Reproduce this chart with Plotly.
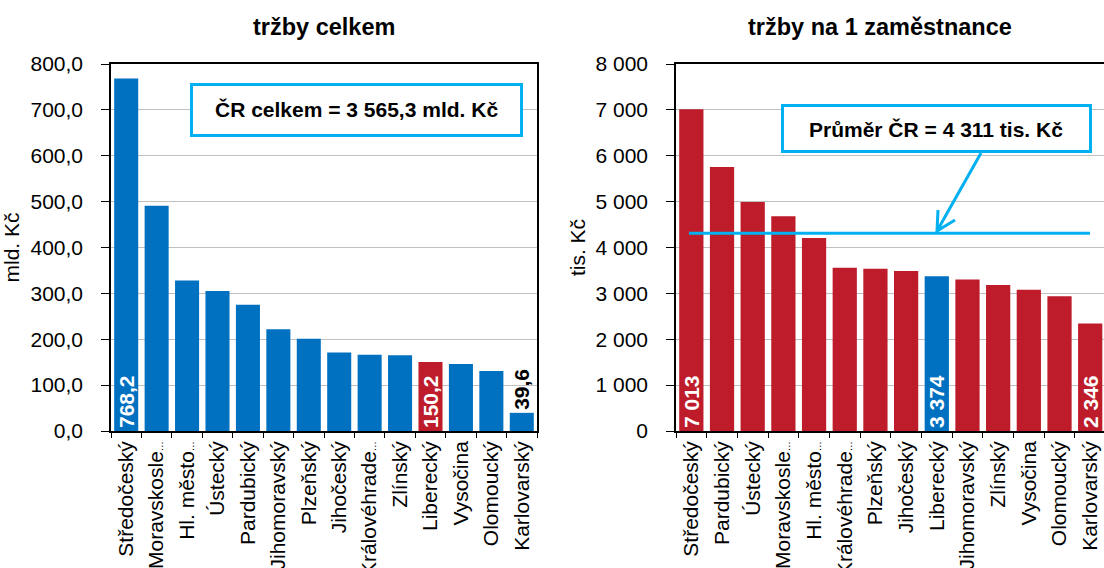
import plotly.graph_objects as go

# ---------------- data ----------------
ELL = "<span style='font-size:10px'>…</span>"
cats_total = ["Středočeský", "Moravskosle" + ELL, "Hl. město" + ELL, "Ústecký", "Pardubický",
              "Jihomoravský", "Plzeňský", "Jihočeský", "Královéhrade" + ELL, "Zlínský",
              "Liberecký", "Vysočina", "Olomoucký", "Karlovarský"]
vals_total = [768.2, 491, 328, 305, 275, 222, 201, 171, 166, 165, 150.2, 146, 131, 39.6]
labels_total = ["768,2", "", "", "", "", "", "", "", "", "", "150,2", "", "", "39,6"]

cats_emp = ["Středočeský", "Pardubický", "Ústecký", "Moravskosle" + ELL, "Hl. město" + ELL,
            "Královéhrade" + ELL, "Plzeňský", "Jihočeský", "Liberecký", "Jihomoravský",
            "Zlínský", "Vysočina", "Olomoucký", "Karlovarský"]
vals_emp = [7013, 5755, 4990, 4680, 4205, 3556, 3535, 3490, 3374, 3300, 3185, 3080, 2936, 2346]
labels_emp = ["7 013", "", "", "", "", "", "", "", "3 374", "", "", "", "", "2 346"]

highlight = "Liberecký"
cr_total_text = "ČR celkem = 3 565,3 mld. Kč"
cr_avg = 4311
cr_avg_text = "Průměr ČR = 4 311 tis. Kč"

# ---------------- styles ----------------
W, H = 1104, 568
BLUE = "#0070C0"
RED = "#BE1C2A"
CYAN = "#00B0F0"
GRID = "#C0C0C0"
FONT = "Liberation Sans, Arial, sans-serif"


def px(x):
    return x / W


def py(y):
    return 1 - y / H


fig = go.Figure()

# left chart
col_total = [RED if c == highlight else BLUE for c in cats_total]
pos_total = ["outside" if (t and v < 60) else "inside" for t, v in zip(labels_total, vals_total)]
fig.add_trace(go.Bar(
    x=cats_total, y=vals_total, marker=dict(color=col_total, line=dict(width=0)),
    text=labels_total, textposition=pos_total, textangle=-90,
    insidetextanchor="start", constraintext="none", cliponaxis=False,
    insidetextfont=dict(color="white", size=21, family=FONT, weight="bold"),
    outsidetextfont=dict(color="black", size=21, family=FONT, weight="bold"),
    xaxis="x", yaxis="y", showlegend=False, hoverinfo="y"))

# right chart
col_emp = [BLUE if c == highlight else RED for c in cats_emp]
fig.add_trace(go.Bar(
    x=cats_emp, y=vals_emp, marker=dict(color=col_emp, line=dict(width=0)),
    text=labels_emp, textposition="inside", textangle=-90,
    insidetextanchor="start", constraintext="none",
    insidetextfont=dict(color="white", size=21, family=FONT, weight="bold"),
    xaxis="x2", yaxis="y2", showlegend=False, hoverinfo="y"))

axis_common = dict(showline=True, linecolor="black", linewidth=1.5,
                   tickfont=dict(size=21, family=FONT, color="black"),
                   automargin=False)

xcat = dict(axis_common, type="category", tickangle=-90, ticks="outside",
            tickson="boundaries", ticklen=5, tickcolor="black", tickwidth=1,
            showgrid=False, mirror=True)

fig.update_layout(
    width=W, height=H,
    margin=dict(l=0, r=0, t=0, b=0),
    paper_bgcolor="white", plot_bgcolor="white",
    separators=", ",
    bargap=0.21,
    font=dict(family=FONT, color="black"),
    xaxis=dict(xcat, domain=[px(111), px(537)], anchor="y", range=[-0.5, 13.5]),
    yaxis=dict(axis_common, domain=[py(431), py(64)], anchor="x", range=[0, 800],
               dtick=100, tickformat=".1f", ticks="outside", ticklen=8,
               tickcolor="black", ticklabelstandoff=14, showgrid=True,
               gridcolor=GRID, gridwidth=1, mirror=True, zeroline=False,
               title=dict(text="mld. Kč", font=dict(size=21, family=FONT),
                          standoff=6)),
    xaxis2=dict(xcat, domain=[px(676), 1.0], anchor="y2", range=[-0.5, 13.45]),
    yaxis2=dict(axis_common, domain=[py(431), py(64)], anchor="x2", range=[0, 8000],
                dtick=1000, tickformat=",d", ticks="outside", ticklen=8,
                tickcolor="black", ticklabelstandoff=14, showgrid=True,
                gridcolor=GRID, gridwidth=1, mirror=False, zeroline=False,
                title=dict(text="tis. Kč", font=dict(size=21, family=FONT),
                           standoff=4)),
)

# titles
fig.add_annotation(text="<b>tržby celkem</b>", xref="x domain", yref="paper",
                   x=0.5, y=py(27), showarrow=False, xanchor="center", yanchor="middle",
                   font=dict(size=23.5, family=FONT, color="black"))
fig.add_annotation(text="<b>tržby na 1 zaměstnance</b>", xref="paper", yref="paper",
                   x=px(880), y=py(27), showarrow=False, xanchor="center", yanchor="middle",
                   font=dict(size=23.5, family=FONT, color="black"))

# left info box
fig.add_shape(type="rect", xref="paper", yref="paper",
              x0=px(191.5), x1=px(521.5), y0=py(135.5), y1=py(84.5),
              line=dict(color=CYAN, width=3), fillcolor="white", layer="above")
fig.add_annotation(text="<b>" + cr_total_text + "</b>", xref="paper", yref="paper",
                   x=px(356), y=py(110), showarrow=False, xanchor="center", yanchor="middle",
                   font=dict(size=21, family=FONT, color="black"))

# right: average line, box and arrow
fig.add_shape(type="line", xref="paper", yref="y2",
              x0=px(689), x1=px(1090), y0=cr_avg, y1=cr_avg,
              line=dict(color=CYAN, width=3), layer="above")
fig.add_shape(type="rect", xref="paper", yref="paper",
              x0=px(782.5), x1=px(1090.5), y0=py(151.5), y1=py(105.5),
              line=dict(color=CYAN, width=3), fillcolor="white", layer="above")
fig.add_annotation(text="<b>" + cr_avg_text + "</b>", xref="paper", yref="paper",
                   x=px(936), y=py(129), showarrow=False, xanchor="center", yanchor="middle",
                   font=dict(size=21, family=FONT, color="black"))
tip = (937, 231)
arrow_path = (f"M {px(981)},{py(153)} L {px(tip[0])},{py(tip[1])} "
              f"M {px(938)},{py(210)} L {px(tip[0])},{py(tip[1])} L {px(955)},{py(220)}")
fig.add_shape(type="path", xref="paper", yref="paper", path=arrow_path,
              line=dict(color=CYAN, width=3), layer="above")

fig.write_html("out.html", config={"displayModeBar": False},
               post_script="document.body.style.margin='0';document.body.style.padding='0';"
                           "document.body.style.overflow='hidden';")
